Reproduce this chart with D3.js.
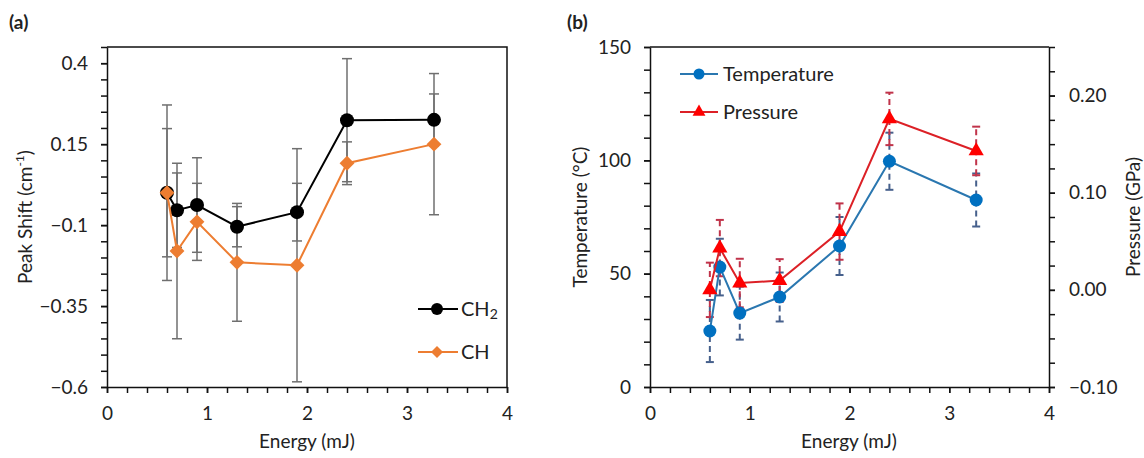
<!DOCTYPE html>
<html>
<head>
<meta charset="utf-8">
<script src="https://cdn.jsdelivr.net/npm/d3@7"></script>
<style>
  body { margin: 0; background: #fff; }
  svg text { font-family: Lato, "Open Sans", sans-serif; fill: #222; }
</style>
</head>
<body>
<svg id="chart" width="1144" height="458"></svg>
<script>
// shared x values
const energy = [0.6, 0.7, 0.9, 1.3, 1.9, 2.4, 3.27];

// panel (a) peak shift
const ch2Shift = [0.0, -0.054, -0.038, -0.105, -0.06, 0.224, 0.225];
const ch2Err = [0.198, 0.115, 0.146, 0.062, 0.089, 0.19, 0.08];
const chShift = [0.0, -0.18, -0.09, -0.215, -0.224, 0.091, 0.15];
const chErr = [0.271, 0.271, 0.119, 0.182, 0.36, 0.066, 0.218];

// panel (b) temperature / pressure
const temperature = [24.7, 52.9, 32.6, 39.7, 62.2, 99.6, 82.5];
const tempErr = [13.7, 12.5, 11.7, 10.8, 12.8, 12.6, 11.7];
const pressure = [0.0, 0.043, 0.007, 0.0096, 0.060, 0.176, 0.143];
const pressErr = [0.028, 0.029, 0.025, 0.022, 0.029, 0.027, 0.025];

const xTicks = [0, 1, 2, 3, 4];
const shiftTicks = [0.4, 0.15, -0.1, -0.35, -0.6];
const tempTicks = [0, 50, 100, 150];
const pressTicks = [-0.1, 0, 0.1, 0.2];

const svg = d3.select("#chart");
const FS = 19;

const pa = { left: 107, right: 507, top: 47, bottom: 387 };
const pb = { left: 650, right: 1049, top: 47, bottom: 387 };

// scales
const xa = d3.scaleLinear().domain([0, 4]).range([pa.left, pa.right]);
const ya = d3.scaleLinear().domain([-0.6, 0.45]).range([pa.bottom, pa.top]);
const xb = d3.scaleLinear().domain([0, 4]).range([pb.left, pb.right]);
const yT = d3.scaleLinear().domain([0, 150]).range([pb.bottom, pb.top]);
const yP = d3.scaleLinear().domain([-0.1, 0.25]).range([pb.bottom, pb.top]);

function styleAxis(g) {
    g.attr("font-family", null).attr("font-size", null);
    g.selectAll("text").style("font-size", FS + "px").style("fill", "#222");
    g.selectAll("line").attr("stroke", "#111").attr("stroke-width", 1.5);
    g.select(".domain").attr("stroke", "#111").attr("stroke-width", 1.5);
}
function minor(g) {
    g.attr("font-family", null).attr("font-size", null);
    g.select(".domain").remove();
    g.selectAll("text").remove();
    g.selectAll("line").attr("stroke", "#111").attr("stroke-width", 1.5);
}

// ---------- panel (a) ----------
svg.append("g").attr("transform", `translate(0,${pa.bottom})`)
    .call(d3.axisBottom(xa).tickValues(d3.range(0, 4.01, 0.2)).tickSize(6).tickFormat(""))
    .call(minor);
svg.append("g").attr("transform", `translate(0,${pa.bottom})`)
    .call(d3.axisBottom(xa).tickValues(xTicks).tickSize(6).tickSizeOuter(0).tickPadding(14).tickFormat(d3.format("d")))
    .call(styleAxis);
svg.append("g").attr("transform", `translate(${pa.left},0)`)
    .call(d3.axisLeft(ya).tickValues(d3.range(-0.6, 0.451, 0.05)).tickSize(6).tickFormat(""))
    .call(minor);
svg.append("g").attr("transform", `translate(${pa.left},0)`)
    .call(d3.axisLeft(ya).tickValues(shiftTicks).tickSize(6).tickSizeOuter(0).tickPadding(13).tickFormat(d => d3.format("")(+d.toFixed(2))))
    .call(styleAxis);
// frame
svg.append("path")
    .attr("d", `M${pa.left},${pa.top}H${pa.right}V${pa.bottom}`)
    .attr("fill", "none").attr("stroke", "#111").attr("stroke-width", 1.5);

const errA = svg.append("g").attr("stroke", "#6f6f6f").attr("stroke-width", 1.5);
function errBars(g, xs, ys, vals, errs, cap) {
    vals.forEach((v, i) => {
        const x = xs(energy[i]), y1 = ys(v - errs[i]), y2 = ys(v + errs[i]);
        g.append("line").attr("x1", x).attr("x2", x).attr("y1", y1).attr("y2", y2);
        g.append("line").attr("x1", x - cap).attr("x2", x + cap).attr("y1", y1).attr("y2", y1);
        g.append("line").attr("x1", x - cap).attr("x2", x + cap).attr("y1", y2).attr("y2", y2);
    });
}
errBars(errA, xa, ya, ch2Shift, ch2Err, 5);
errBars(errA, xa, ya, chShift, chErr, 5);

const lineA = (vals) => d3.line().x((d, i) => xa(energy[i])).y(d => ya(d))(vals);
svg.append("path").attr("d", lineA(ch2Shift)).attr("fill", "none").attr("stroke", "#000").attr("stroke-width", 2);
svg.selectAll(".ch2").data(ch2Shift).join("circle")
    .attr("cx", (d, i) => xa(energy[i])).attr("cy", d => ya(d)).attr("r", 7).attr("fill", "#000");

svg.append("path").attr("d", lineA(chShift)).attr("fill", "none").attr("stroke", "#ed7d31").attr("stroke-width", 2);
const diamond = d3.symbol(d3.symbolSquare, 110);
svg.selectAll(".ch").data(chShift).join("path")
    .attr("d", diamond)
    .attr("transform", (d, i) => `translate(${xa(energy[i])},${ya(d)}) rotate(45)`)
    .attr("fill", "#ed7d31");

// legend (a)
const legA = svg.append("g");
legA.append("line").attr("x1", 418).attr("x2", 458).attr("y1", 309).attr("y2", 309).attr("stroke", "#000").attr("stroke-width", 2);
legA.append("circle").attr("cx", 437).attr("cy", 309).attr("r", 6).attr("fill", "#000");
const t1 = legA.append("text").attr("x", 461).attr("y", 309).attr("dy", "0.35em").style("font-size", "20px");
t1.append("tspan").text("CH");
t1.append("tspan").text("2").style("font-size", "14px").attr("dy", "3");
legA.append("line").attr("x1", 418).attr("x2", 458).attr("y1", 352).attr("y2", 352).attr("stroke", "#ed7d31").attr("stroke-width", 2);
legA.append("path").attr("d", d3.symbol(d3.symbolSquare, 72)).attr("transform", "translate(437,352) rotate(45)").attr("fill", "#ed7d31");
legA.append("text").attr("x", 461).attr("y", 352).attr("dy", "0.35em").style("font-size", "20px").text("CH");

// titles (a)
svg.append("text").attr("x", 9).attr("y", 29).style("font-size", FS + "px").style("font-weight", "bold").text("(a)");
svg.append("text").attr("x", 307).attr("y", 448).attr("text-anchor", "middle").style("font-size", FS + "px").text("Energy (mJ)");
const ytA = svg.append("text").attr("transform", "translate(25,217) rotate(-90)").attr("dy", "0.35em")
    .attr("text-anchor", "middle").style("font-size", FS + "px");
ytA.append("tspan").text("Peak Shift (cm");
ytA.append("tspan").text("-1").style("font-size", "12px").attr("dy", "-8");
ytA.append("tspan").text(")").attr("dy", "8");

// ---------- panel (b) ----------
svg.append("g").attr("transform", `translate(0,${pb.bottom})`)
    .call(d3.axisBottom(xb).tickValues(d3.range(0, 4.01, 0.2)).tickSize(6).tickFormat(""))
    .call(minor);
svg.append("g").attr("transform", `translate(0,${pb.bottom})`)
    .call(d3.axisBottom(xb).tickValues(xTicks).tickSize(6).tickSizeOuter(0).tickPadding(14).tickFormat(d3.format("d")))
    .call(styleAxis);
svg.append("g").attr("transform", `translate(${pb.left},0)`)
    .call(d3.axisLeft(yT).tickValues(d3.range(0, 151, 10)).tickSize(6).tickFormat(""))
    .call(minor);
svg.append("g").attr("transform", `translate(${pb.left},0)`)
    .call(d3.axisLeft(yT).tickValues(tempTicks).tickSize(6).tickSizeOuter(0).tickPadding(13).tickFormat(d3.format("d")))
    .call(styleAxis);
svg.append("g").attr("transform", `translate(${pb.right},0)`)
    .call(d3.axisRight(yP).tickValues(d3.range(-0.1, 0.251, 0.025)).tickSize(6).tickFormat(""))
    .call(minor);
svg.append("g").attr("transform", `translate(${pb.right},0)`)
    .call(d3.axisRight(yP).tickValues(pressTicks).tickSize(6).tickSizeOuter(0).tickPadding(14).tickFormat(d3.format(".2f")))
    .call(styleAxis);
svg.append("line").attr("x1", pb.left).attr("x2", pb.right).attr("y1", pb.top).attr("y2", pb.top)
    .attr("stroke", "#111").attr("stroke-width", 1.5);

function dashedErr(g, ys, vals, errs, cap) {
    vals.forEach((v, i) => {
        const x = xb(energy[i]), y1 = ys(v - errs[i]), y2 = ys(v + errs[i]);
        g.append("line").attr("x1", x).attr("x2", x).attr("y1", y1).attr("y2", y2).attr("stroke-dasharray", "6,4");
        g.append("line").attr("x1", x - cap).attr("x2", x + cap).attr("y1", y1).attr("y2", y1);
        g.append("line").attr("x1", x - cap).attr("x2", x + cap).attr("y1", y2).attr("y2", y2);
    });
}
dashedErr(svg.append("g").attr("stroke", "#46608c").attr("stroke-width", 2), yT, temperature, tempErr, 4);
dashedErr(svg.append("g").attr("stroke", "#c0334a").attr("stroke-width", 2), yP, pressure, pressErr, 4);

const lineT = d3.line().x((d, i) => xb(energy[i])).y(d => yT(d));
const lineP = d3.line().x((d, i) => xb(energy[i])).y(d => yP(d));
svg.append("path").attr("d", lineT(temperature)).attr("fill", "none").attr("stroke", "#2a77b0").attr("stroke-width", 2);
svg.selectAll(".temp").data(temperature).join("circle")
    .attr("cx", (d, i) => xb(energy[i])).attr("cy", d => yT(d)).attr("r", 6.5).attr("fill", "#0070c0");
svg.append("path").attr("d", lineP(pressure)).attr("fill", "none").attr("stroke", "#dc2026").attr("stroke-width", 2);
const tri = d3.symbol(d3.symbolTriangle, 100);
svg.selectAll(".press").data(pressure).join("path")
    .attr("d", tri)
    .attr("transform", (d, i) => `translate(${xb(energy[i])},${yP(d)})`)
    .attr("fill", "#ff0000");

// legend (b)
const legB = svg.append("g");
legB.append("line").attr("x1", 680).attr("x2", 718).attr("y1", 74).attr("y2", 74).attr("stroke", "#2a77b0").attr("stroke-width", 2);
legB.append("circle").attr("cx", 699).attr("cy", 74).attr("r", 5.5).attr("fill", "#0070c0");
legB.append("text").attr("x", 723).attr("y", 74).attr("dy", "0.35em").style("font-size", "20px").text("Temperature");
legB.append("line").attr("x1", 680).attr("x2", 718).attr("y1", 112).attr("y2", 112).attr("stroke", "#dc2026").attr("stroke-width", 2);
legB.append("path").attr("d", d3.symbol(d3.symbolTriangle, 72)).attr("transform", "translate(699,112)").attr("fill", "#ff0000");
legB.append("text").attr("x", 723).attr("y", 112).attr("dy", "0.35em").style("font-size", "20px").text("Pressure");

// titles (b)
svg.append("text").attr("x", 567).attr("y", 29).style("font-size", FS + "px").style("font-weight", "bold").text("(b)");
svg.append("text").attr("x", 849).attr("y", 448).attr("text-anchor", "middle").style("font-size", FS + "px").text("Energy (mJ)");
svg.append("text").attr("transform", "translate(580,217) rotate(-90)").attr("dy", "0.35em")
    .attr("text-anchor", "middle").style("font-size", FS + "px").text("Temperature (°C)");
svg.append("text").attr("transform", "translate(1133,217) rotate(-90)").attr("dy", "0.35em")
    .attr("text-anchor", "middle").style("font-size", FS + "px").text("Pressure (GPa)");
</script>
</body>
</html>
